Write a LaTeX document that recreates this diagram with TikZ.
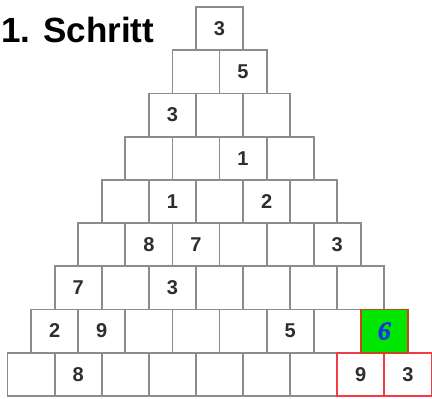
\documentclass[tikz,border=0pt]{standalone}
\usepackage{fontspec}
\setmainfont{Liberation Sans}
\newfontfamily\serifbi[FakeBold=1.8]{Liberation Serif Bold Italic}
\definecolor{gridgray}{HTML}{8C8C8C}
\definecolor{numgray}{HTML}{2E2E2E}
\definecolor{hired}{HTML}{F03C46}
\definecolor{darkred}{HTML}{C8461E}
\definecolor{hgreen}{HTML}{00E600}
\definecolor{hblue}{HTML}{1432E6}
\begin{document}
\begin{tikzpicture}[x=1pt,y=-1pt,
  cell/.style={draw=gridgray,line width=1.8pt,minimum width=47.1pt,minimum height=43.2pt,inner sep=0pt,fill=white},
  redcell/.style={cell,draw=hired},
  greencell/.style={cell,draw=darkred,fill=hgreen},
  num/.style={font=\fontsize{20}{20}\selectfont\bfseries,text=numgray,inner sep=0pt},
  bluenum/.style={font=\serifbi\fontsize{26}{26}\selectfont,text=hblue,inner sep=0pt}]
\useasboundingbox (0,0) rectangle (432,399);
\foreach \r in {1,...,9}{
  \foreach \k in {1,...,\r}{
    \node[cell] (c-\r-\k) at ({219.5+(\k-(\r+1)/2)*47.1},{7+(\r-0.5)*43.2}) {};
  }
}
% highlighted cells
\node[redcell] (r-9-8) at (c-9-8) {};
\node[redcell] (r-9-9) at (c-9-9) {};
\node[greencell] (g-8-8) at (c-8-8) {};
% numbers
\node[num] (n1) at (c-1-1) {3};
\node[num] (n2) at (c-2-2) {5};
\node[num] (n3) at (c-3-1) {3};
\node[num] (n4) at (c-4-3) {1};
\node[num] (n5) at (c-5-2) {1};
\node[num] (n6) at (c-5-4) {2};
\node[num] (n7) at (c-6-2) {8};
\node[num] (n8) at (c-6-3) {7};
\node[num] (n9) at (c-6-6) {3};
\node[num] (n10) at (c-7-1) {7};
\node[num] (n11) at (c-7-3) {3};
\node[num] (n12) at (c-8-1) {2};
\node[num] (n13) at (c-8-2) {9};
\node[num] (n14) at (c-8-6) {5};
\node[bluenum] (n15) at (g-8-8) {6};
\node[num] (n16) at (c-9-2) {8};
\node[num] (n17) at (r-9-8) {9};
\node[num] (n18) at (r-9-9) {3};
% title
\node[anchor=base west,inner sep=0pt,font=\fontsize{35}{35}\selectfont\bfseries] (title) at (1,42) {1. Schritt};
\end{tikzpicture}
\end{document}
